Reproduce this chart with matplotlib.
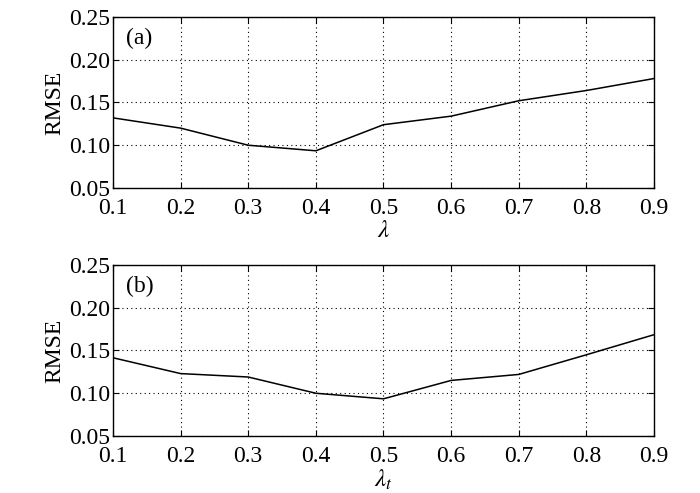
import matplotlib
matplotlib.use('Agg')
import matplotlib.pyplot as plt
import numpy as np

plt.rcParams['font.family'] = 'Liberation Serif'
plt.rcParams['mathtext.fontset'] = 'stix'

lam = [0.1, 0.2, 0.3, 0.4, 0.5, 0.6, 0.7, 0.8, 0.9]
rmse_a = [0.132, 0.120, 0.100, 0.0935, 0.124, 0.134, 0.152, 0.164, 0.178]
rmse_b = [0.1415, 0.123, 0.119, 0.100, 0.0935, 0.115, 0.122, 0.145, 0.1685]

yticks = [0.05, 0.10, 0.15, 0.20, 0.25]
ytick_labels = ['0.05', '0.10', '0.15', '0.20', '0.25']

fig = plt.figure(figsize=(7, 4.93), dpi=100)
ax1 = fig.add_axes([0.1614, 0.6187, 0.7729, 0.3469])
ax2 = fig.add_axes([0.1614, 0.1156, 0.7729, 0.3469])

for ax, y, tag, xl in [(ax1, rmse_a, '(a)', r'$\lambda$'),
                       (ax2, rmse_b, '(b)', r'$\lambda_t$')]:
    ax.plot(lam, y, 'k-', linewidth=1.1)
    ax.set_xlim(0.1, 0.9)
    ax.set_ylim(0.05, 0.25)
    ax.set_xticks(lam)
    ax.set_yticks(yticks)
    ax.set_yticklabels(ytick_labels)
    ax.grid(True, color='k', linestyle=(0, (1, 3)), linewidth=0.8)
    ax.tick_params(direction='in', length=4, labelsize=17,
                   top=True, right=True)
    ax.tick_params(axis='x', pad=7)
    ax.tick_params(axis='y', pad=2)
    for s in ax.spines.values():
        s.set_linewidth(1.0)
    ax.set_ylabel('RMSE', fontsize=17, labelpad=3)
    ax.set_xlabel(xl, fontsize=18, labelpad=1)
    ax.text(0.024, 0.935, tag, transform=ax.transAxes, fontsize=17,
            va='top', ha='left')

plt.savefig('out.png', dpi=100)
